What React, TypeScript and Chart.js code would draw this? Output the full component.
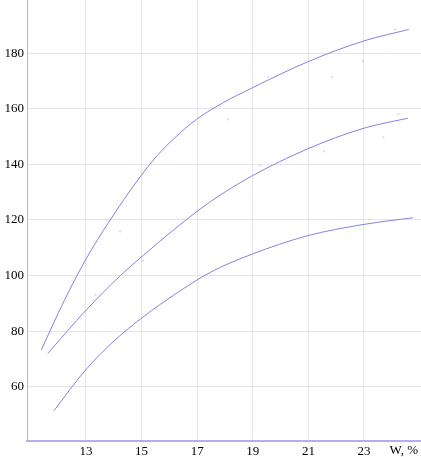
import React, { useEffect, useRef } from "react";
import { Chart, registerables } from "chart.js";

Chart.register(...registerables);
Chart.defaults.font.family = "'Liberation Serif', 'Times New Roman', serif";

const xTicks = [13, 15, 17, 19, 21, 23];
const yTicks = [60, 80, 100, 120, 140, 160, 180];

const upperX = [11.39, 12.22, 13.0, 13.84, 14.97, 15.57, 16.16, 16.98, 17.96, 18.94, 20.96, 23.0, 24.61];
const upperY = [73.2, 91, 105.9, 119.5, 135.8, 143.2, 149.2, 156.2, 162.3, 167.3, 176.8, 184.4, 188.5];

const middleX = [11.63, 13.0, 14.25, 15.08, 16.15, 17.48, 18.95, 20.96, 23.0, 24.58];
const middleY = [72, 87.5, 100.1, 107.4, 116.4, 126.6, 135.7, 145.5, 153, 156.6];

const lowerX = [11.85, 13.0, 14.0, 15.08, 16.15, 17.48, 18.95, 20.96, 23.0, 24.76];
const lowerY = [51.4, 66.2, 76.4, 85.3, 92.9, 101.2, 107.6, 114.3, 118.4, 120.8];

const dotsX = [24.12, 22.97, 21.85, 19.55, 18.11, 24.23, 23.69, 21.56, 19.26, 14.23, 15.05, 13.33];
const dotsY = [188.6, 177.1, 171.4, 171.4, 156.2, 158, 149.7, 144.7, 139.6, 115.9, 105.4, 93.2];

const axisLabel = "W, %";

const pts = (xs: number[], ys: number[]) => xs.map((x, i) => ({ x, y: ys[i] }));

const curve = (xs: number[], ys: number[]) => ({
  type: "line" as const,
  data: pts(xs, ys),
  borderColor: "#8282e0",
  borderWidth: 1,
  pointRadius: 0,
  pointHoverRadius: 0,
  cubicInterpolationMode: "monotone" as const,
  fill: false,
});

const noPad = (s: any) => {
  s.paddingTop = 0;
  s.paddingBottom = 0;
  s.paddingLeft = 0;
  s.paddingRight = 0;
};

export default function App() {
  const ref = useRef<HTMLCanvasElement | null>(null);
  useEffect(() => {
    if (!ref.current) return;
    const labelPlugin = {
      id: "wlabel",
      afterDraw(chart: any) {
        const ctx = chart.ctx;
        ctx.save();
        ctx.font = "13px 'Liberation Serif', serif";
        ctx.fillStyle = "#000";
        ctx.textAlign = "right";
        ctx.textBaseline = "top";
        ctx.fillText(axisLabel, chart.chartArea.right - 3, chart.chartArea.bottom + 3);
        ctx.restore();
      },
    };
    const chart = new Chart(ref.current, {
      type: "line",
      data: {
        datasets: [
          {
            type: "scatter",
            data: pts(dotsX, dotsY),
            pointRadius: 1.3,
            pointHoverRadius: 0,
            pointBorderWidth: 0,
            pointBackgroundColor: "rgba(200,200,235,0.55)",
            showLine: false,
          } as any,
          curve(upperX, upperY),
          curve(middleX, middleY),
          curve(lowerX, lowerY),
        ],
      },
      options: {
        animation: false,
        responsive: false,
        maintainAspectRatio: false,
        layout: { padding: 0, autoPadding: false },
        plugins: { legend: { display: false }, tooltip: { enabled: false } },
        scales: {
          x: {
            type: "linear",
            min: 10.88,
            max: 25.05,
            afterBuildTicks: (s: any) => {
              s.ticks = xTicks.map((v) => ({ value: v }));
            },
            afterFit: (s: any) => {
              s.height = 16;
              noPad(s);
            },
            grid: { color: "#e4e4ec", drawTicks: false, lineWidth: 1 },
            border: { color: "#b4aeea", width: 2 },
            ticks: {
              padding: 3,
              color: "#000",
              font: { size: 13 },
              maxRotation: 0,
              autoSkip: false,
            },
          },
          y: {
            type: "linear",
            min: 40.5,
            max: 199.1,
            afterBuildTicks: (s: any) => {
              s.ticks = yTicks.map((v) => ({ value: v }));
            },
            afterFit: (s: any) => {
              s.width = 27;
              noPad(s);
            },
            grid: { color: "#e4e4ec", drawTicks: false, lineWidth: 1 },
            border: { color: "#b4aeea", width: 1 },
            ticks: {
              padding: 3,
              color: "#000",
              font: { size: 13 },
              autoSkip: false,
            },
          },
        },
      },
      plugins: [labelPlugin],
    } as any);
    return () => chart.destroy();
  }, []);
  return (
    <div style={{ position: "absolute", left: 0, top: 0, width: 421, height: 457, background: "#fff" }}>
      <canvas ref={ref} width={421} height={457} style={{ display: "block" }} />
    </div>
  );
}
